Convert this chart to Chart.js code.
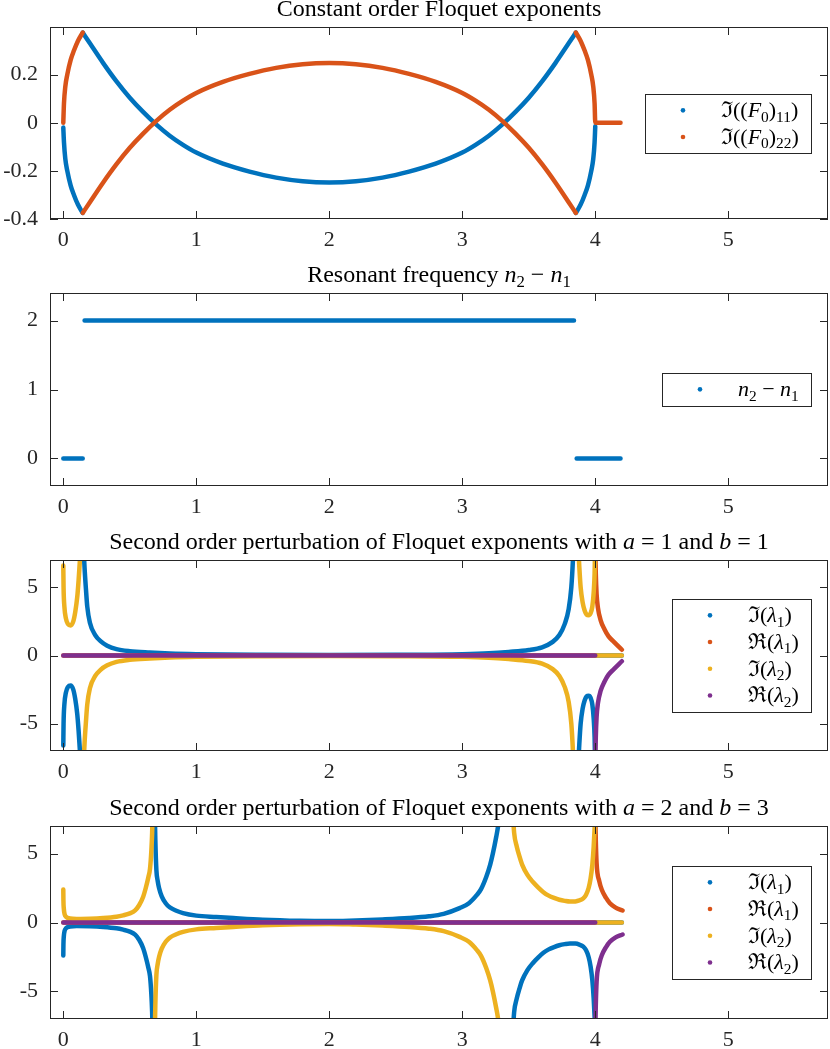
<!DOCTYPE html>
<html>
<head>
<meta charset="utf-8">
<script src="https://cdn.jsdelivr.net/npm/chart.js@4.4.1/dist/chart.umd.min.js"></script>
<style>
  body { margin: 0; background: #fff; width: 830px; height: 1049px; overflow: hidden; position: relative; }
  canvas { position: absolute; left: 0; }
</style>
</head>
<body>
<canvas id="c1"></canvas>
<canvas id="c2"></canvas>
<canvas id="c3"></canvas>
<canvas id="c4"></canvas>
<script>
// ---- data ----
const xTicks = [0, 1, 2, 3, 4, 5];
const yTicks1 = [-0.4, -0.2, 0, 0.2];
const yTicks2 = [0, 1, 2];
const yTicks34 = [-5, 0, 5];

// panel 1: constant order Floquet exponents (null = gap between branches)
const f11X = [0, 0.005, 0.015, 0.03, 0.055, 0.08, 0.11, 0.146, 0.146,
  0.146, 0.2, 0.3, 0.4, 0.5, 0.6, 0.7, 0.8, 0.9, 1.0, 1.2, 1.4, 1.6, 1.8, 2.0, 2.2, 2.4, 2.6, 2.8, 3.0, 3.1, 3.2, 3.3, 3.4, 3.5, 3.6, 3.7, 3.8, 3.854, 3.854,
  3.854, 3.89, 3.92, 3.945, 3.97, 3.985, 3.995, 4.0];
const f11Y = [-0.02, -0.08, -0.15, -0.2, -0.26, -0.3, -0.34, -0.375, null,
  0.375, 0.33, 0.248, 0.172, 0.104, 0.045, -0.008, -0.054, -0.092, -0.124, -0.17, -0.203, -0.228, -0.243, -0.248, -0.243, -0.228, -0.203, -0.17, -0.124, -0.092, -0.054, -0.008, 0.045, 0.104, 0.172, 0.248, 0.33, 0.375, null,
  -0.375, -0.34, -0.3, -0.26, -0.2, -0.15, -0.08, -0.015];
const f22X = [0, 0.005, 0.015, 0.03, 0.055, 0.08, 0.11, 0.146, 0.146,
  0.146, 0.2, 0.3, 0.4, 0.5, 0.6, 0.7, 0.8, 0.9, 1.0, 1.2, 1.4, 1.6, 1.8, 2.0, 2.2, 2.4, 2.6, 2.8, 3.0, 3.1, 3.2, 3.3, 3.4, 3.5, 3.6, 3.7, 3.8, 3.854, 3.854,
  3.854, 3.89, 3.92, 3.945, 3.97, 3.985, 3.995, 4.0, 4.1, 4.19];
const f22Y = [0, 0.08, 0.15, 0.2, 0.26, 0.3, 0.34, 0.375, null,
  -0.375, -0.33, -0.248, -0.172, -0.104, -0.045, 0.008, 0.054, 0.092, 0.124, 0.17, 0.203, 0.228, 0.243, 0.248, 0.243, 0.228, 0.203, 0.17, 0.124, 0.092, 0.054, 0.008, -0.045, -0.104, -0.172, -0.248, -0.33, -0.375, null,
  0.375, 0.34, 0.3, 0.26, 0.2, 0.15, 0.08, 0, 0, 0];

// panel 2: resonant frequency
const resX = [0, 0.146, 0.15, 0.16, 3.84, 3.85, 3.86, 4.19];
const resY = [0, 0, null, 2, 2, null, 0, 0];

// panel 3: a = 1, b = 1
const p3ImX = [0, 0.002, 0.008, 0.02, 0.035, 0.055, 0.075, 0.09, 0.105, 0.115, 0.125, 0.132, 0.14,
  0.152, 0.16, 0.17, 0.18, 0.2, 0.24, 0.28, 0.33, 0.4, 0.5, 0.65, 0.8, 1.0, 1.5, 2.0, 2.5, 3.0, 3.2, 3.35, 3.5, 3.6, 3.68, 3.73, 3.77, 3.8, 3.82, 3.832, 3.836, 3.85,
  3.872, 3.88, 3.89, 3.905, 3.92, 3.935, 3.95, 3.965, 3.978, 3.988, 3.995, 3.999, 4.0,
  4.0, 4.2];
const p3Im1Y = [-6.6, -5.0, -3.6, -2.7, -2.3, -2.2, -2.5, -3.2, -4.3, -5.5, -7.0, -8.0, null,
  8, 6.4, 4.9, 3.6, 2.4, 1.5, 1.05, 0.72, 0.47, 0.32, 0.22, 0.15, 0.1, 0.05, 0.03, 0.05, 0.1, 0.16, 0.26, 0.4, 0.6, 1.0, 1.5, 2.3, 3.4, 5.0, 7.0, 8, null,
  -8, -6.5, -5, -3.9, -3.3, -3.0, -2.95, -3.1, -3.6, -4.6, -6, -8, null,
  0, 0];
const p3Im2Y = [6.6, 5.0, 3.6, 2.7, 2.3, 2.2, 2.5, 3.2, 4.3, 5.5, 7.0, 8.0, null,
  -8, -6.4, -4.9, -3.6, -2.4, -1.5, -1.05, -0.72, -0.47, -0.32, -0.22, -0.15, -0.1, -0.05, -0.03, -0.05, -0.1, -0.16, -0.26, -0.4, -0.6, -1.0, -1.5, -2.3, -3.4, -5.0, -7.0, -8, null,
  8, 6.5, 5, 3.9, 3.3, 3.0, 2.95, 3.1, 3.6, 4.6, 6, 8, null,
  0, 0];
const p3ReX = [0, 4.0, 4.0, 4.0, 4.004, 4.01, 4.02, 4.04, 4.07, 4.1, 4.14, 4.2];
const p3Re1Y = [0, 0, null, 8, 6, 4.5, 3.5, 2.6, 1.9, 1.4, 1.0, 0.42];
const p3Re2Y = [0, 0, null, -8, -6, -4.5, -3.5, -2.6, -1.9, -1.4, -1.0, -0.42];

// panel 4: a = 2, b = 3
const p4ImX = [0, 0.001, 0.004, 0.01, 0.02, 0.05, 0.1, 0.2, 0.3, 0.4, 0.45, 0.5, 0.54, 0.57, 0.6, 0.62, 0.64, 0.652, 0.662, 0.668, 0.672, 0.68,
  0.688, 0.692, 0.7, 0.71, 0.72, 0.74, 0.77, 0.8, 0.85, 0.9, 1.0, 1.15, 1.28, 1.5, 1.78, 2.0, 2.2, 2.4, 2.6, 2.75, 2.86, 2.98, 3.05, 3.11, 3.14, 3.18, 3.21, 3.23, 3.255, 3.27, 3.28, 3.33,
  3.38, 3.39, 3.41, 3.43, 3.45, 3.49, 3.53, 3.57, 3.61, 3.65, 3.69, 3.73, 3.77, 3.81, 3.85, 3.88, 3.91, 3.93, 3.95, 3.965, 3.978, 3.988, 3.996, 4.0, 4.0,
  4.0, 4.2];
const p4Im1Y = [-2.4, -1.6, -1.0, -0.6, -0.42, -0.3, -0.26, -0.27, -0.32, -0.42, -0.52, -0.66, -0.88, -1.25, -1.85, -2.5, -3.3, -3.9, -5.2, -6.5, -8, null,
  8, 6, 3.8, 3.0, 2.5, 1.9, 1.4, 1.1, 0.85, 0.68, 0.5, 0.4, 0.32, 0.2, 0.12, 0.1, 0.15, 0.22, 0.32, 0.45, 0.63, 1.04, 1.4, 2.0, 2.4, 3.3, 4.2, 5.0, 6.2, 7.05, 8, null,
  -8, -6.5, -5.5, -4.8, -4.2, -3.45, -2.95, -2.55, -2.2, -1.95, -1.78, -1.65, -1.57, -1.52, -1.53, -1.6, -1.75, -2.0, -2.5, -3.2, -4.2, -5.5, -7, -8, null,
  0, 0];
const p4Im2Y = [2.4, 1.6, 1.0, 0.6, 0.42, 0.3, 0.26, 0.27, 0.32, 0.42, 0.52, 0.66, 0.88, 1.25, 1.85, 2.5, 3.3, 3.9, 5.2, 6.5, 8, null,
  -8, -6, -3.8, -3.0, -2.5, -1.9, -1.4, -1.1, -0.85, -0.68, -0.5, -0.4, -0.32, -0.2, -0.12, -0.1, -0.15, -0.22, -0.32, -0.45, -0.63, -1.04, -1.4, -2.0, -2.4, -3.3, -4.2, -5.0, -6.2, -7.05, -8, null,
  8, 6.5, 5.5, 4.8, 4.2, 3.45, 2.95, 2.55, 2.2, 1.95, 1.78, 1.65, 1.57, 1.52, 1.53, 1.6, 1.75, 2.0, 2.5, 3.2, 4.2, 5.5, 7, 8, null,
  0, 0];
const p4ReX = [0, 4.0, 4.0, 4.0, 4.004, 4.01, 4.03, 4.05, 4.08, 4.11, 4.15, 4.205];
const p4Re1Y = [0, 0, null, 8, 6, 4.3, 3.0, 2.36, 1.8, 1.4, 1.1, 0.87];
const p4Re2Y = [0, 0, null, -8, -6, -4.3, -3.0, -2.36, -1.8, -1.4, -1.1, -0.87];

// ---- text (segments: '' roman, 'i' italic, 's' subscript) ----
const titles = [
  [['Constant order Floquet exponents', '']],
  [['Resonant frequency ', ''], ['n', 'i'], ['2', 's'], [' \u2212 ', ''], ['n', 'i'], ['1', 's']],
  [['Second order perturbation of Floquet exponents with ', ''], ['a', 'i'], [' = 1 and ', ''], ['b', 'i'], [' = 1', '']],
  [['Second order perturbation of Floquet exponents with ', ''], ['a', 'i'], [' = 2 and ', ''], ['b', 'i'], [' = 3', '']]
];
const f0Labels = [
  [['\u2111((', ''], ['F', 'i'], ['0', 's'], [')', ''], ['11', 's'], [')', '']],
  [['\u2111((', ''], ['F', 'i'], ['0', 's'], [')', ''], ['22', 's'], [')', '']]
];
const resLabel = [['n', 'i'], ['2', 's'], [' \u2212 ', ''], ['n', 'i'], ['1', 's']];
const lamLabels = [
  [['\u2111(', ''], ['\u03bb', 'i'], ['1', 's'], [')', '']],
  [['\u211c(', ''], ['\u03bb', 'i'], ['1', 's'], [')', '']],
  [['\u2111(', ''], ['\u03bb', 'i'], ['2', 's'], [')', '']],
  [['\u211c(', ''], ['\u03bb', 'i'], ['2', 's'], [')', '']]
];

const COLORS = ['#0072BD', '#D95319', '#EDB120', '#7E2F8E'];
const FONT = "'Liberation Serif', 'DejaVu Serif', serif";
const AXIS = '#262626';
const TICK = 8;
const TITLE_SIZE = 24;
const LEGEND_SIZE = 22;

function segFont(style, size) {
  const px = style.includes('s') ? size * 0.7 : size;
  return (style.includes('i') ? 'italic ' : '') + px + 'px ' + FONT;
}

function richWidth(ctx, segs, size) {
  let w = 0;
  segs.forEach(([t, st]) => { ctx.font = segFont(st, size); w += ctx.measureText(t).width; });
  return w;
}

function drawRich(ctx, segs, x, y, size) {
  segs.forEach(([t, st]) => {
    ctx.font = segFont(st, size);
    ctx.fillText(t, x, st.includes('s') ? y + size * 0.2 : y);
    x += ctx.measureText(t).width;
  });
}

// frame, inward ticks on all sides, title and legend (MATLAB style)
function decoPlugin(title) {
  return {
    id: 'deco',
    afterDraw(chart) {
      const ctx = chart.ctx, a = chart.chartArea;
      const sx = chart.scales.x, sy = chart.scales.y;
      ctx.save();
      ctx.strokeStyle = AXIS;
      ctx.lineWidth = 1;
      ctx.strokeRect(a.left + 0.5, a.top + 0.5, a.right - a.left - 1, a.bottom - a.top - 1);
      ctx.beginPath();
      sx.ticks.forEach(t => {
        const p = Math.round(sx.getPixelForValue(t.value)) + 0.5;
        ctx.moveTo(p, a.bottom); ctx.lineTo(p, a.bottom - TICK);
        ctx.moveTo(p, a.top); ctx.lineTo(p, a.top + TICK);
      });
      sy.ticks.forEach(t => {
        const p = Math.round(sy.getPixelForValue(t.value)) + 0.5;
        ctx.moveTo(a.left, p); ctx.lineTo(a.left + TICK, p);
        ctx.moveTo(a.right, p); ctx.lineTo(a.right - TICK, p);
      });
      ctx.stroke();

      ctx.textAlign = 'left';
      ctx.textBaseline = 'alphabetic';
      ctx.fillStyle = '#000';
      const tw = richWidth(ctx, title, TITLE_SIZE);
      drawRich(ctx, title, (a.left + a.right) / 2 - tw / 2, a.top - 11, TITLE_SIZE);

      const ds = chart.data.datasets;
      const textW = Math.max(...ds.map(d => richWidth(ctx, d.richLabel, LEGEND_SIZE)));
      const bw = Math.round(88 + textW), bh = Math.round(ds.length * 26.7 + 6);
      const bx = Math.round(a.right - 17 - bw), by = Math.round((a.top + a.bottom) / 2 - bh / 2);
      ctx.fillStyle = '#fff';
      ctx.fillRect(bx, by, bw, bh);
      ctx.strokeRect(bx + 0.5, by + 0.5, bw, bh);
      ds.forEach((d, i) => {
        const cy = by + 3 + 26.7 * (i + 0.5);
        ctx.fillStyle = d.borderColor;
        ctx.beginPath();
        ctx.arc(bx + 38, cy, 2.3, 0, Math.PI * 2);
        ctx.fill();
        ctx.fillStyle = '#000';
        drawRich(ctx, d.richLabel, bx + 76, cy + 7, LEGEND_SIZE);
      });
      ctx.restore();
    }
  };
}

function series(label, rich, xs, ys, color, order) {
  return {
    label: label,
    richLabel: rich,
    data: xs.map((x, i) => ({ x: x, y: ys[i] })),
    borderColor: color,
    backgroundColor: color,
    showLine: true,
    spanGaps: false,
    order: order,
    clip: 0
  };
}

function makeChart(id, areaTop, areaBottom, yMin, yMax, yTicks, title, datasets) {
  const canvas = document.getElementById(id);
  const top = areaTop - 40;
  canvas.width = 830;
  canvas.height = areaBottom + 40 - top;
  canvas.style.top = top + 'px';
  const tickFont = { family: FONT, size: 22 };
  return new Chart(canvas.getContext('2d'), {
    type: 'scatter',
    data: { datasets: datasets },
    options: {
      responsive: false,
      animation: false,
      events: [],
      layout: { padding: { top: 40, right: 2, left: 0, bottom: 0 } },
      elements: {
        point: { radius: 0, hitRadius: 0 },
        line: { borderWidth: 4.5, borderCapStyle: 'round', borderJoinStyle: 'round', cubicInterpolationMode: 'monotone' }
      },
      plugins: { legend: { display: false }, tooltip: { enabled: false }, title: { display: false } },
      scales: {
        x: {
          type: 'linear', min: -0.1, max: 5.75,
          afterBuildTicks: s => { s.ticks = xTicks.map(v => ({ value: v })); },
          afterFit: s => { s.height = 40; },
          grid: { display: false, drawTicks: false },
          border: { display: false },
          ticks: { font: tickFont, color: AXIS, padding: 8, maxRotation: 0, autoSkip: false, callback: v => String(v) }
        },
        y: {
          type: 'linear', min: yMin, max: yMax,
          afterBuildTicks: s => { s.ticks = yTicks.map(v => ({ value: v })); },
          afterFit: s => { s.width = 50; },
          grid: { display: false, drawTicks: false },
          border: { display: false },
          ticks: { font: tickFont, color: AXIS, padding: 12, autoSkip: false, callback: v => String(v) }
        }
      }
    },
    plugins: [decoPlugin(title)]
  });
}

makeChart('c1', 27, 219, -0.4, 0.398, yTicks1, titles[0], [
  series('Im((F0)11)', f0Labels[0], f11X, f11Y, COLORS[0], 1),
  series('Im((F0)22)', f0Labels[1], f22X, f22Y, COLORS[1], 0)
]);

makeChart('c2', 293, 486, -0.4, 2.4, yTicks2, titles[1], [
  series('n2 - n1', resLabel, resX, resY, COLORS[0], 0)
]);

makeChart('c3', 560, 751, -7, 7, yTicks34, titles[2], [
  series('Im(lambda1)', lamLabels[0], p3ImX, p3Im1Y, COLORS[0], 3),
  series('Re(lambda1)', lamLabels[1], p3ReX, p3Re1Y, COLORS[1], 2),
  series('Im(lambda2)', lamLabels[2], p3ImX, p3Im2Y, COLORS[2], 1),
  series('Re(lambda2)', lamLabels[3], p3ReX, p3Re2Y, COLORS[3], 0)
]);

makeChart('c4', 826, 1019, -7, 7, yTicks34, titles[3], [
  series('Im(lambda1)', lamLabels[0], p4ImX, p4Im1Y, COLORS[0], 3),
  series('Re(lambda1)', lamLabels[1], p4ReX, p4Re1Y, COLORS[1], 2),
  series('Im(lambda2)', lamLabels[2], p4ImX, p4Im2Y, COLORS[2], 1),
  series('Re(lambda2)', lamLabels[3], p4ReX, p4Re2Y, COLORS[3], 0)
]);
</script>
</body>
</html>
